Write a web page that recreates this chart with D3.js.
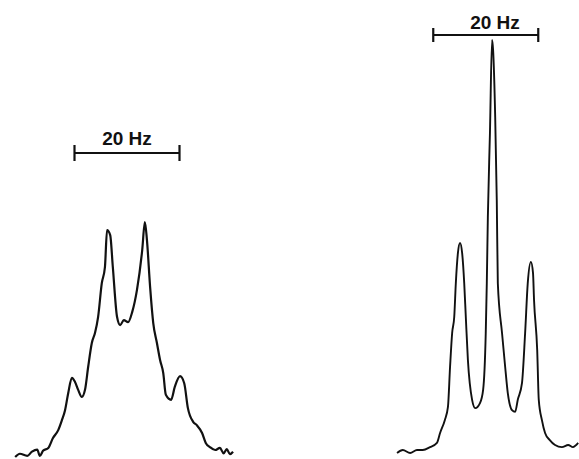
<!DOCTYPE html>
<html>
<head>
<meta charset="utf-8">
<script src="https://cdn.jsdelivr.net/npm/d3@7"></script>
<style>
  html, body { margin: 0; padding: 0; background: #fff; }
  svg { display: block; }
</style>
</head>
<body>
<div id="chart"></div>
<script>
// Spectrum traces: frequency offset (Hz) vs. relative intensity (tallest peak = 100)
const leftHz = [-21.3, -20.4, -19.0, -18.1, -17.1, -16.6, -16.0, -15.0, -14.1, -13.1, -12.4, -11.8, -11.2, -10.5, -9.9, -9.3, -8.6, -8.0, -7.4, -6.7, -6.1, -5.5, -4.8, -4.2, -3.8, -3.2, -2.7, -1.9, -1.3, -0.6, 0.2, 1.0, 1.9, 2.9, 3.4, 3.8, 4.4, 5.0, 5.7, 6.3, 6.9, 7.4, 8.4, 9.1, 10.1, 10.9, 11.6, 12.6, 13.3, 14.3, 15.0, 15.8, 16.8, 17.7, 18.4, 19.0, 19.6, 20.2];
const leftI  = [-0.5, 0.3, -0.2, 0.8, 1.3, -0.2, 1.0, 1.7, 4.1, 6.0, 8.4, 10.8, 14.9, 18.6, 17.6, 15.7, 14.0, 15.7, 21.2, 27.0, 29.4, 33.3, 41.4, 45.3, 54.2, 53.0, 45.3, 33.3, 31.3, 32.5, 32.0, 34.5, 39.8, 49.4, 56.1, 51.8, 40.5, 31.8, 27.0, 22.9, 19.8, 14.5, 13.3, 16.4, 19.0, 17.3, 11.3, 8.0, 7.2, 5.3, 2.9, 1.9, 1.2, 1.7, 0.4, 1.4, 0.2, 0.8];

const rightHz = [-17.9, -16.8, -15.4, -14.1, -13.0, -11.6, -10.3, -9.7, -8.8, -8.2, -7.8, -7.4, -7.0, -6.7, -6.3, -5.9, -5.5, -5.1, -4.8, -4.4, -3.6, -3.0, -2.1, -1.5, -1.0, -0.8, -0.6, -0.2, 0.2, 0.4, 0.8, 1.1, 1.3, 2.1, 2.7, 3.2, 4.0, 4.6, 5.1, 5.9, 6.5, 7.0, 7.6, 8.0, 8.2, 8.8, 9.1, 9.7, 10.3, 11.2, 12.2, 13.5, 14.7, 15.6, 16.6];
const rightI  = [0.5, 1.2, 0.5, 1.2, 1.2, 1.9, 2.9, 5.3, 8.4, 11.6, 21.2, 29.4, 33.3, 41.4, 48.7, 51.1, 48.7, 41.4, 33.3, 22.9, 13.3, 11.3, 12.5, 15.7, 29.4, 41.4, 57.3, 77.6, 100, 97.6, 81.4, 61.4, 41.4, 29.4, 21.2, 14.9, 10.8, 10.4, 13.3, 17.3, 29.4, 41.4, 46.5, 43.9, 37.3, 25.3, 13.3, 8.4, 5.3, 3.6, 2.4, 1.9, 2.4, 1.9, 2.9];

// 20 Hz scale bars (start/end in Hz on each spectrum's axis)
const leftBar = [-10, 10];
const rightBar = [-11, 9];
const barLabel = "20 Hz";

const W = 579, H = 459;
const pxPerHz = 5.25;

const svg = d3.select("#chart").append("svg")
    .attr("width", W).attr("height", H)
    .attr("viewBox", `0 0 ${W} ${H}`);
svg.append("rect").attr("width", W).attr("height", H).attr("fill", "#fff");

const y = d3.scaleLinear().domain([0, 100]).range([455, 40]);
const xL = d3.scaleLinear().domain([-22, 22]).range([127 - 22 * pxPerHz, 127 + 22 * pxPerHz]);
const xR = d3.scaleLinear().domain([-22, 22]).range([491 - 22 * pxPerHz, 491 + 22 * pxPerHz]);

function drawTrace(xs, hz, inten, width) {
    const pts = hz.map((h, i) => [h, inten[i]]);
    const line = d3.line().x(d => xs(d[0])).y(d => y(d[1])).curve(d3.curveMonotoneX);
    svg.append("path")
        .datum(pts)
        .attr("d", line)
        .attr("fill", "none")
        .attr("stroke", "#111")
        .attr("stroke-width", width)
        .attr("stroke-linejoin", "round");
}

function drawBar(xs, bar, yPos, tickH, textX, textY) {
    const g = svg.append("g").attr("stroke", "#111");
    g.append("line")
        .attr("x1", xs(bar[0])).attr("x2", xs(bar[1]))
        .attr("y1", yPos).attr("y2", yPos)
        .attr("stroke-width", 2);
    bar.forEach(b => {
        g.append("line")
            .attr("x1", xs(b)).attr("x2", xs(b))
            .attr("y1", yPos - tickH).attr("y2", yPos + tickH)
            .attr("stroke-width", 2.2);
    });
    svg.append("text")
        .attr("x", textX)
        .attr("y", textY)
        .attr("text-anchor", "middle")
        .attr("font-family", "Liberation Sans, Arial, sans-serif")
        .attr("font-weight", "bold")
        .attr("font-size", 19)
        .attr("fill", "#111")
        .text(barLabel);
}

drawTrace(xL, leftHz, leftI, 2.2);
drawTrace(xR, rightHz, rightI, 1.9);

drawBar(xL, leftBar, 153, 8, 127, 145);
drawBar(xR, rightBar, 35, 7, 495, 29);
</script>
</body>
</html>
